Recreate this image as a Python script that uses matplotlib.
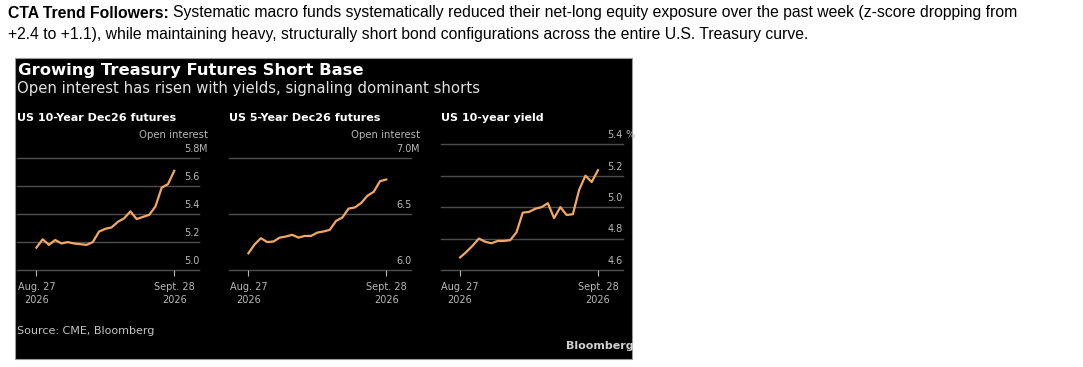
import matplotlib
matplotlib.use('Agg')
from matplotlib import pyplot as plt
from matplotlib.patches import Rectangle
import numpy as np

# data (trading days Aug. 27 - Sept. 28, 2026)
oi_10y = [5.16, 5.22, 5.18, 5.215, 5.19, 5.20, 5.19, 5.185, 5.18, 5.20, 5.275, 5.295,
          5.305, 5.345, 5.37, 5.42, 5.365, 5.38, 5.395, 5.455, 5.59, 5.615, 5.71]
oi_5y = [6.15, 6.23, 6.285, 6.25, 6.255, 6.29, 6.30, 6.315, 6.29, 6.305, 6.305, 6.335,
         6.345, 6.36, 6.44, 6.47, 6.55, 6.56, 6.60, 6.665, 6.70, 6.795, 6.81]
yield_10y = [4.68, 4.715, 4.755, 4.80, 4.78, 4.77, 4.785, 4.785, 4.79, 4.84, 4.965, 4.97,
             4.99, 5.0, 5.025, 4.93, 5.0, 4.95, 4.955, 5.11, 5.20, 5.16, 5.235]
date_labels = ["Aug. 27\n2026", "Sept. 28\n2026"]

panel_titles = ["US 10-Year Dec26 futures", "US 5-Year Dec26 futures", "US 10-year yield"]
panel_series = [oi_10y, oi_5y, yield_10y]
panel_ticks = [[5.0, 5.2, 5.4, 5.6, 5.8], [6.0, 6.5, 7.0], [4.6, 4.8, 5.0, 5.2, 5.4]]
panel_unit = ["M", "M", " %"]
panel_ylabel = ["Open interest", "Open interest", ""]

W, H = 1083, 367
BB_FONT = 'DejaVu Sans'
LINE_COLOR = '#f2a862'
GRID_COLOR = '#4d4d4d'
LABEL_COLOR = '#b8b8b8'


def fx(px):
    return px / W


def fy(py):
    return 1 - py / H


fig = plt.figure(figsize=(W / 100, H / 100), dpi=100)
fig.patch.set_facecolor('white')

# header text above the chart (bold lead-in, then regular)
t1 = fig.text(fx(8), fy(13), "CTA Trend Followers:", fontsize=11.3, fontweight='bold',
              family='Liberation Sans', va='center', ha='left', color='black')
fig.canvas.draw()
bb = t1.get_window_extent()
fig.text(fx(8) + (bb.width + 4) / W, fy(13),
         "Systematic macro funds systematically reduced their net-long equity exposure over the past week (z-score dropping from",
         fontsize=11.3, family='Liberation Sans', va='center', ha='left', color='black')
fig.text(fx(8), fy(34),
         "+2.4 to +1.1), while maintaining heavy, structurally short bond configurations across the entire U.S. Treasury curve.",
         fontsize=11.3, family='Liberation Sans', va='center', ha='left', color='black')

# black chart background
fig.patches.append(Rectangle((fx(15), fy(358.5)), fx(632) - fx(15), fy(57.5) - fy(358.5),
                             transform=fig.transFigure, facecolor='#000000',
                             edgecolor='#9a9a9a', linewidth=0.8, zorder=-10))

fig.text(fx(18), fy(70.5), "Growing Treasury Futures Short Base", fontsize=11.8,
         fontweight='bold', family=BB_FONT, color='white', va='center', ha='left')
fig.text(fx(17), fy(89), "Open interest has risen with yields, signaling dominant shorts",
         fontsize=10.7, family=BB_FONT, color='#e2e2e2', va='center', ha='left')

lefts = [17.3, 229.3, 441]
tops = [158.3, 158.3, 144.3]
for i in range(3):
    left, top = lefts[i], tops[i]
    ax = fig.add_axes([fx(left), fy(270), 182 / W, (270 - top) / H])
    ax.set_zorder(2)
    ax.patch.set_alpha(0)
    vals = panel_series[i]
    n = len(vals)
    ax.plot(np.arange(n), vals, color=LINE_COLOR, linewidth=1.6, zorder=3)
    ticks = panel_ticks[i]
    ax.set_ylim(ticks[0], ticks[-1])
    ax.set_xlim(-3.05, 26.0)
    for t in ticks:
        ax.axhline(t, color=GRID_COLOR, linewidth=1, zorder=1, clip_on=False)
        lab = ('%.1f' % t)
        ax.annotate(lab, xy=(1, t), xycoords=('axes fraction', 'data'), xytext=(0, 3),
                    textcoords='offset points', ha='right', va='bottom', fontsize=7,
                    family=BB_FONT, color=LABEL_COLOR)
    ax.annotate(panel_unit[i], xy=(1, ticks[-1]), xycoords=('axes fraction', 'data'),
                xytext=(0, 3), textcoords='offset points', ha='left', va='bottom',
                fontsize=7, family=BB_FONT, color=LABEL_COLOR)
    if panel_ylabel[i]:
        ax.annotate(panel_ylabel[i], xy=(1, ticks[-1]), xycoords=('axes fraction', 'data'),
                    xytext=(6, 13), textcoords='offset points', ha='right', va='bottom',
                    fontsize=7.3, family=BB_FONT, color=LABEL_COLOR)
    for s in ax.spines.values():
        s.set_visible(False)
    ax.set_yticks([])
    ax.set_xticks([0, n - 1])
    ax.set_xticklabels(date_labels, fontsize=7, family=BB_FONT, color=LABEL_COLOR,
                       linespacing=1.3)
    ax.tick_params(axis='x', colors=LABEL_COLOR, length=4.3, width=0.8, pad=4.5,
                   labelcolor=LABEL_COLOR)
    fig.text(fx(left), fy(118), panel_titles[i], fontsize=8, fontweight='bold',
             family=BB_FONT, color='white', va='center', ha='left')

fig.text(fx(17), fy(331), "Source: CME, Bloomberg", fontsize=8, family=BB_FONT,
         color='#c4c4c4', va='center', ha='left')
fig.text(fx(634), fy(346), "Bloomberg", fontsize=8, fontweight='bold', family=BB_FONT,
         color='#d0d0d0', va='center', ha='right')

plt.savefig('out.png', dpi=100, facecolor='white')
plt.close('all')
